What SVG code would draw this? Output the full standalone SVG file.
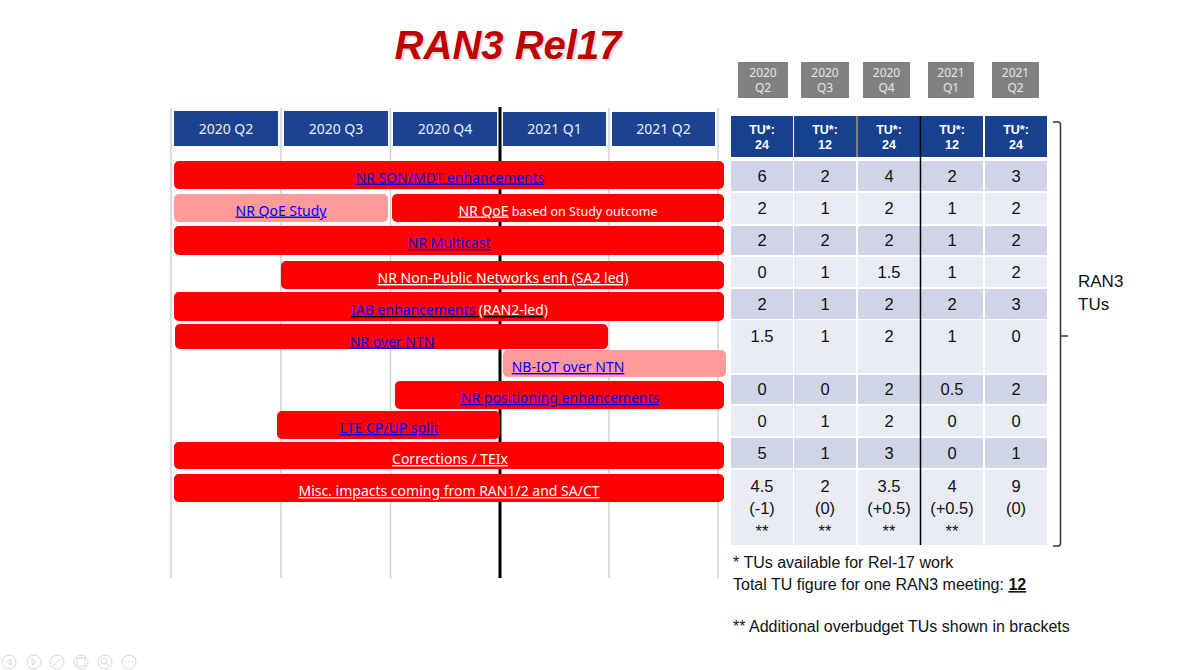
<svg xmlns="http://www.w3.org/2000/svg" width="1200" height="670" viewBox="0 0 1200 670">
<style>
.grid{stroke:#cdd1d8;stroke-width:1.5}
.qh{fill:#1c4391}
.qt{font-family:"Noto Sans","Open Sans",sans-serif;font-size:14px;fill:#e8eef8;text-anchor:middle}
.red{fill:#ff0000}
.pink{fill:#ff9a9a}
.bt{font-family:"Noto Sans","Open Sans",sans-serif;font-size:14px;text-anchor:middle;text-decoration:underline}
.blue{fill:#0000ff}
.wh{fill:#ffffff}
.gb{fill:#818181}
.gt{font-family:"Noto Sans","Open Sans",sans-serif;font-size:12px;fill:#e6e6e6;text-anchor:middle}
.th{fill:#17408f}
.tht{font-family:"Liberation Sans",Arial,sans-serif;font-size:12.5px;font-weight:bold;fill:#ffffff;text-anchor:middle}
.dk{fill:#cfd5e6}
.lt{fill:#e9ecf5}
.tn{font-family:"Liberation Sans",Arial,sans-serif;font-size:16.5px;fill:#111111;text-anchor:middle}
.note{font-family:"Liberation Sans",Arial,sans-serif;font-size:16px;fill:#111111}
.ico{fill:none;stroke:#d6d6d6;stroke-width:1}
</style>

<!-- Title -->
<g id="title">
  <text x="510" y="61" font-family="Liberation Sans,Arial,sans-serif" font-size="40" font-weight="bold" font-style="italic" fill="#bdbdbd" text-anchor="middle" opacity="0.5">RAN3 Rel17</text>
  <text x="508" y="59" font-family="Liberation Sans,Arial,sans-serif" font-size="40" font-weight="bold" font-style="italic" fill="#c00000" text-anchor="middle">RAN3 Rel17</text>
</g>

<!-- Grid lines -->
<g id="grid">
  <line class="grid" x1="171" y1="108" x2="171" y2="578"/>
  <line class="grid" x1="281" y1="108" x2="281" y2="578"/>
  <line class="grid" x1="390.5" y1="108" x2="390.5" y2="578"/>
  <line class="grid" x1="609" y1="108" x2="609" y2="578"/>
  <line class="grid" x1="718" y1="108" x2="718" y2="578"/>
  <line x1="500" y1="107" x2="500" y2="578" stroke="#000" stroke-width="3"/>
</g>

<!-- Quarter headers -->
<g id="quarters">
  <g id="q-2020Q2"><rect class="qh" x="174" y="111" width="104" height="35"/><text class="qt" x="226" y="134">2020 Q2</text></g>
  <g id="q-2020Q3"><rect class="qh" x="284" y="111" width="104" height="35"/><text class="qt" x="336" y="134">2020 Q3</text></g>
  <g id="q-2020Q4"><rect class="qh" x="393" y="112" width="104" height="34"/><text class="qt" x="445" y="134">2020 Q4</text></g>
  <g id="q-2021Q1"><rect class="qh" x="503" y="112" width="103" height="34"/><text class="qt" x="554.5" y="134">2021 Q1</text></g>
  <g id="q-2021Q2"><rect class="qh" x="612" y="112" width="103" height="34"/><text class="qt" x="663.5" y="134">2021 Q2</text></g>
</g>

<!-- Bars -->
<g id="bar-son"><rect class="red" x="174" y="161" width="550" height="28" rx="5"/><text class="bt blue" x="450" y="182.5">NR SON/MDT enhancements</text></g>
<g id="bar-qoe-study"><rect class="pink" x="174" y="194" width="214" height="28" rx="5"/><text class="bt blue" x="281" y="215.5">NR QoE Study</text></g>
<g id="bar-qoe"><rect class="red" x="392" y="194" width="332" height="28" rx="5"/><text x="558" y="215.5" font-family="Noto Sans,Open Sans,sans-serif" fill="#fff" text-anchor="middle"><tspan font-size="14" text-decoration="underline">NR QoE</tspan><tspan font-size="12.5"> based on Study outcome</tspan></text></g>
<g id="bar-multicast"><rect class="red" x="174" y="226" width="550" height="29" rx="5"/><text class="bt blue" x="449" y="248">NR Multicast</text></g>
<g id="bar-npn"><rect class="red" x="281" y="261" width="443" height="28" rx="5"/><text class="bt wh" x="503" y="283">NR Non-Public Networks enh (SA2 led)</text></g>
<g id="bar-iab"><rect class="red" x="174" y="292" width="550" height="29" rx="5"/><text class="bt" x="449.5" y="315"><tspan class="blue">IAB enhancements</tspan><tspan class="wh"> (RAN2-led)</tspan></text></g>
<g id="bar-ntn"><rect class="red" x="175" y="324" width="433" height="25" rx="5"/><text class="bt blue" x="392" y="346.5">NR over NTN</text></g>
<g id="bar-nbiot"><rect class="pink" x="503" y="350" width="223" height="27" rx="5"/><text class="bt blue" x="568" y="372">NB-IOT over NTN</text></g>
<g id="bar-pos"><rect class="red" x="395" y="381" width="329" height="28" rx="5"/><text class="bt blue" x="560" y="403">NR positioning enhancements</text></g>
<g id="bar-lte"><rect class="red" x="277" y="411" width="223" height="28" rx="5"/><text class="bt blue" x="389" y="433">LTE CP/UP split</text></g>
<g id="bar-corr"><rect class="red" x="174" y="442" width="550" height="27" rx="5"/><text class="bt wh" x="450" y="464">Corrections / TEIx</text></g>
<g id="bar-misc"><rect class="red" x="174" y="474" width="550" height="28" rx="5"/><text class="bt wh" x="449" y="496">Misc. impacts coming from RAN1/2 and SA/CT</text></g>

<!-- Gray quarter boxes above table -->
<g id="gray-quarters">
  <g id="g1"><rect class="gb" x="738" y="62" width="50" height="36"/><text class="gt" x="763" y="77">2020</text><text class="gt" x="763" y="92">Q2</text></g>
  <g id="g2"><rect class="gb" x="801" y="62" width="48" height="36"/><text class="gt" x="825" y="77">2020</text><text class="gt" x="825" y="92">Q3</text></g>
  <g id="g3"><rect class="gb" x="863" y="62" width="47" height="36"/><text class="gt" x="886.5" y="77">2020</text><text class="gt" x="886.5" y="92">Q4</text></g>
  <g id="g4"><rect class="gb" x="928" y="62" width="46" height="36"/><text class="gt" x="951" y="77">2021</text><text class="gt" x="951" y="92">Q1</text></g>
  <g id="g5"><rect class="gb" x="992" y="62" width="47" height="36"/><text class="gt" x="1015.5" y="77">2021</text><text class="gt" x="1015.5" y="92">Q2</text></g>
</g>

<!-- Table -->
<g id="table">
  <g id="table-header">
    <rect class="th" x="731" y="116" width="62" height="41"/>
    <rect class="th" x="794" y="116" width="62" height="41"/>
    <rect class="th" x="858" y="116" width="62" height="41"/>
    <rect class="th" x="921" y="116" width="62" height="41"/>
    <rect class="th" x="985" y="116" width="62" height="41"/>
    <text class="tht" x="762" y="134">TU*:</text><text class="tht" x="762" y="149">24</text>
    <text class="tht" x="825" y="134">TU*:</text><text class="tht" x="825" y="149">12</text>
    <text class="tht" x="889" y="134">TU*:</text><text class="tht" x="889" y="149">24</text>
    <text class="tht" x="952" y="134">TU*:</text><text class="tht" x="952" y="149">12</text>
    <text class="tht" x="1016" y="134">TU*:</text><text class="tht" x="1016" y="149">24</text>
    <line x1="857" y1="116" x2="857" y2="157" stroke="#000" stroke-width="1"/>
  </g>
  <g id="table-rows">
    <g>
      <rect class="dk" x="731" y="161" width="62" height="30"/><rect class="dk" x="794" y="161" width="62" height="30"/><rect class="dk" x="858" y="161" width="62" height="30"/><rect class="dk" x="921" y="161" width="62" height="30"/><rect class="dk" x="985" y="161" width="62" height="30"/>
      <rect class="lt" x="731" y="193" width="62" height="31"/><rect class="lt" x="794" y="193" width="62" height="31"/><rect class="lt" x="858" y="193" width="62" height="31"/><rect class="lt" x="921" y="193" width="62" height="31"/><rect class="lt" x="985" y="193" width="62" height="31"/>
      <rect class="dk" x="731" y="226" width="62" height="29"/><rect class="dk" x="794" y="226" width="62" height="29"/><rect class="dk" x="858" y="226" width="62" height="29"/><rect class="dk" x="921" y="226" width="62" height="29"/><rect class="dk" x="985" y="226" width="62" height="29"/>
      <rect class="lt" x="731" y="257" width="62" height="30"/><rect class="lt" x="794" y="257" width="62" height="30"/><rect class="lt" x="858" y="257" width="62" height="30"/><rect class="lt" x="921" y="257" width="62" height="30"/><rect class="lt" x="985" y="257" width="62" height="30"/>
      <rect class="dk" x="731" y="289" width="62" height="30"/><rect class="dk" x="794" y="289" width="62" height="30"/><rect class="dk" x="858" y="289" width="62" height="30"/><rect class="dk" x="921" y="289" width="62" height="30"/><rect class="dk" x="985" y="289" width="62" height="30"/>
      <rect class="lt" x="731" y="320" width="62" height="53"/><rect class="lt" x="794" y="320" width="62" height="53"/><rect class="lt" x="858" y="320" width="62" height="53"/><rect class="lt" x="921" y="320" width="62" height="53"/><rect class="lt" x="985" y="320" width="62" height="53"/>
      <rect class="dk" x="731" y="375" width="62" height="29"/><rect class="dk" x="794" y="375" width="62" height="29"/><rect class="dk" x="858" y="375" width="62" height="29"/><rect class="dk" x="921" y="375" width="62" height="29"/><rect class="dk" x="985" y="375" width="62" height="29"/>
      <rect class="lt" x="731" y="406" width="62" height="30"/><rect class="lt" x="794" y="406" width="62" height="30"/><rect class="lt" x="858" y="406" width="62" height="30"/><rect class="lt" x="921" y="406" width="62" height="30"/><rect class="lt" x="985" y="406" width="62" height="30"/>
      <rect class="dk" x="731" y="438" width="62" height="30"/><rect class="dk" x="794" y="438" width="62" height="30"/><rect class="dk" x="858" y="438" width="62" height="30"/><rect class="dk" x="921" y="438" width="62" height="30"/><rect class="dk" x="985" y="438" width="62" height="30"/>
      <rect class="lt" x="731" y="470" width="62" height="75"/><rect class="lt" x="794" y="470" width="62" height="75"/><rect class="lt" x="858" y="470" width="62" height="75"/><rect class="lt" x="921" y="470" width="62" height="75"/><rect class="lt" x="985" y="470" width="62" height="75"/>
    </g>
    <line x1="920.5" y1="116" x2="920.5" y2="545" stroke="#000" stroke-width="1.5"/>
    <g>
      <text class="tn" x="762" y="182">6</text><text class="tn" x="825" y="182">2</text><text class="tn" x="889" y="182">4</text><text class="tn" x="952" y="182">2</text><text class="tn" x="1016" y="182">3</text>
      <text class="tn" x="762" y="214">2</text><text class="tn" x="825" y="214">1</text><text class="tn" x="889" y="214">2</text><text class="tn" x="952" y="214">1</text><text class="tn" x="1016" y="214">2</text>
      <text class="tn" x="762" y="246">2</text><text class="tn" x="825" y="246">2</text><text class="tn" x="889" y="246">2</text><text class="tn" x="952" y="246">1</text><text class="tn" x="1016" y="246">2</text>
      <text class="tn" x="762" y="278">0</text><text class="tn" x="825" y="278">1</text><text class="tn" x="889" y="278">1.5</text><text class="tn" x="952" y="278">1</text><text class="tn" x="1016" y="278">2</text>
      <text class="tn" x="762" y="310">2</text><text class="tn" x="825" y="310">1</text><text class="tn" x="889" y="310">2</text><text class="tn" x="952" y="310">2</text><text class="tn" x="1016" y="310">3</text>
      <text class="tn" x="762" y="342">1.5</text><text class="tn" x="825" y="342">1</text><text class="tn" x="889" y="342">2</text><text class="tn" x="952" y="342">1</text><text class="tn" x="1016" y="342">0</text>
      <text class="tn" x="762" y="395">0</text><text class="tn" x="825" y="395">0</text><text class="tn" x="889" y="395">2</text><text class="tn" x="952" y="395">0.5</text><text class="tn" x="1016" y="395">2</text>
      <text class="tn" x="762" y="427">0</text><text class="tn" x="825" y="427">1</text><text class="tn" x="889" y="427">2</text><text class="tn" x="952" y="427">0</text><text class="tn" x="1016" y="427">0</text>
      <text class="tn" x="762" y="459">5</text><text class="tn" x="825" y="459">1</text><text class="tn" x="889" y="459">3</text><text class="tn" x="952" y="459">0</text><text class="tn" x="1016" y="459">1</text>
      <text class="tn" x="762" y="492">4.5</text><text class="tn" x="825" y="492">2</text><text class="tn" x="889" y="492">3.5</text><text class="tn" x="952" y="492">4</text><text class="tn" x="1016" y="492">9</text>
      <text class="tn" x="762" y="514">(-1)</text><text class="tn" x="825" y="514">(0)</text><text class="tn" x="889" y="514">(+0.5)</text><text class="tn" x="952" y="514">(+0.5)</text><text class="tn" x="1016" y="514">(0)</text>
      <text class="tn" x="762" y="537">**</text><text class="tn" x="825" y="537">**</text><text class="tn" x="889" y="537">**</text><text class="tn" x="952" y="537">**</text>
    </g>
  </g>
</g>

<!-- Bracket -->
<g id="connectors">
  <path d="M1053,122 L1058,122 Q1060.5,122 1060.5,125 L1060.5,543 Q1060.5,546 1058,546 L1053,546 M1060.5,336 L1068,336" fill="none" stroke="#333" stroke-width="1.5"/>
</g>
<g id="ran3-tus">
  <text x="1078" y="287" font-family="Liberation Sans,Arial,sans-serif" font-size="17" fill="#111">RAN3</text>
  <text x="1078" y="310" font-family="Liberation Sans,Arial,sans-serif" font-size="17" fill="#111">TUs</text>
</g>

<!-- Notes -->
<g id="notes">
  <text class="note" x="733" y="568">* TUs available for Rel-17 work</text>
  <text class="note" x="733" y="590">Total TU figure for one RAN3 meeting: <tspan font-weight="bold" text-decoration="underline">12</tspan></text>
  <text class="note" x="733" y="632">** Additional overbudget TUs shown in brackets</text>
</g>

<!-- Slideshow toolbar icons -->
<g id="toolbar">
  <circle class="ico" cx="9" cy="662" r="7"/><path class="ico" d="M11,659 L7,662 L11,665 Z"/>
  <circle class="ico" cx="34" cy="662" r="7"/><path class="ico" d="M32,659 L36,662 L32,665 Z"/>
  <circle class="ico" cx="57" cy="662" r="7"/><path class="ico" d="M53,666 L60,659"/>
  <circle class="ico" cx="81" cy="662" r="7"/><rect class="ico" x="77" y="658" width="8" height="8"/>
  <circle class="ico" cx="105" cy="662" r="7"/><circle class="ico" cx="104" cy="661" r="3"/><path class="ico" d="M106,663 L109,666"/>
  <circle class="ico" cx="129" cy="662" r="7"/><path d="M125,662 h1 M128.5,662 h1 M132,662 h1" stroke="#d6d6d6" stroke-width="1.5"/>
</g>
</svg>
